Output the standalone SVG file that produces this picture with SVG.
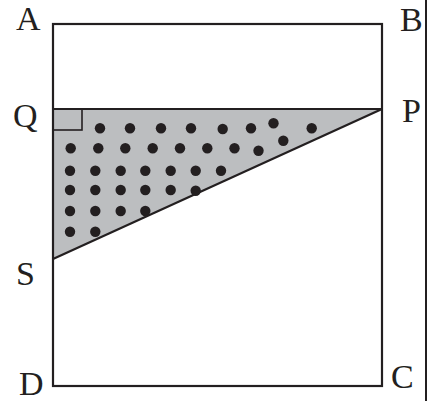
<svg xmlns="http://www.w3.org/2000/svg" width="435" height="401" viewBox="0 0 435 401">
<style>
.lbl{font-family:"Liberation Serif","Times New Roman",serif;font-size:34px;fill:#231f20}
.ln{stroke:#231f20;stroke-width:2.2;fill:none}
.dot{fill:#231f20}
</style>
<rect width="435" height="401" fill="#fff"/>
<g id="shaded">
<polygon points="53,109 382,109 53,259" fill="#bcbec0"/>
<rect x="53" y="109" width="29" height="21" fill="none" stroke="#231f20" stroke-width="1.6"/>
</g>
<g id="square">
<rect class="ln" x="53" y="24" width="329" height="362"/>
</g>
<g id="connectors">
<line class="ln" x1="53" y1="109" x2="382" y2="109"/>
<line class="ln" x1="382" y1="109" x2="53" y2="259"/>
<line x1="426" y1="0" x2="426" y2="401" stroke="#231f20" stroke-width="2"/>
</g>
<g id="dots">
<circle class="dot" cx="100" cy="128.3" r="5.2"/><circle class="dot" cx="130" cy="128.3" r="5.2"/><circle class="dot" cx="161" cy="128.3" r="5.2"/><circle class="dot" cx="191" cy="128.3" r="5.2"/><circle class="dot" cx="222.7" cy="129" r="5.2"/><circle class="dot" cx="251" cy="128.3" r="5.2"/><circle class="dot" cx="273.5" cy="123.3" r="5.2"/><circle class="dot" cx="311.7" cy="128.3" r="5.2"/>
<circle class="dot" cx="70.7" cy="148.3" r="5.2"/><circle class="dot" cx="98.3" cy="148.3" r="5.2"/><circle class="dot" cx="125.3" cy="148.3" r="5.2"/><circle class="dot" cx="152.7" cy="148.3" r="5.2"/><circle class="dot" cx="180" cy="148.3" r="5.2"/><circle class="dot" cx="207.3" cy="148.3" r="5.2"/><circle class="dot" cx="234.5" cy="148.3" r="5.2"/><circle class="dot" cx="258.5" cy="150.7" r="5.2"/><circle class="dot" cx="283.3" cy="140.7" r="5.2"/>
<circle class="dot" cx="70" cy="170.7" r="5.2"/><circle class="dot" cx="95.3" cy="170.7" r="5.2"/><circle class="dot" cx="120.7" cy="170.7" r="5.2"/><circle class="dot" cx="145.3" cy="170.7" r="5.2"/><circle class="dot" cx="170.7" cy="170.7" r="5.2"/><circle class="dot" cx="195.7" cy="170.7" r="5.2"/><circle class="dot" cx="221" cy="170.7" r="5.2"/>
<circle class="dot" cx="70" cy="190" r="5.2"/><circle class="dot" cx="95.3" cy="190" r="5.2"/><circle class="dot" cx="120.7" cy="190" r="5.2"/><circle class="dot" cx="145.3" cy="190" r="5.2"/><circle class="dot" cx="170.7" cy="190" r="5.2"/><circle class="dot" cx="195.7" cy="190.7" r="5.2"/>
<circle class="dot" cx="70" cy="211" r="5.2"/><circle class="dot" cx="95.3" cy="211" r="5.2"/><circle class="dot" cx="120.7" cy="211" r="5.2"/><circle class="dot" cx="145.3" cy="211" r="5.2"/>
<circle class="dot" cx="70" cy="231.7" r="5.2"/><circle class="dot" cx="95.3" cy="231.7" r="5.2"/>
</g>
<g id="labels">
<text class="lbl" x="16" y="30">A</text>
<text class="lbl" x="400" y="31">B</text>
<text class="lbl" x="13" y="127">Q</text>
<text class="lbl" x="402" y="122">P</text>
<text class="lbl" x="16" y="285">S</text>
<text class="lbl" x="19" y="395">D</text>
<text class="lbl" x="391" y="388">C</text>
</g>
</svg>
